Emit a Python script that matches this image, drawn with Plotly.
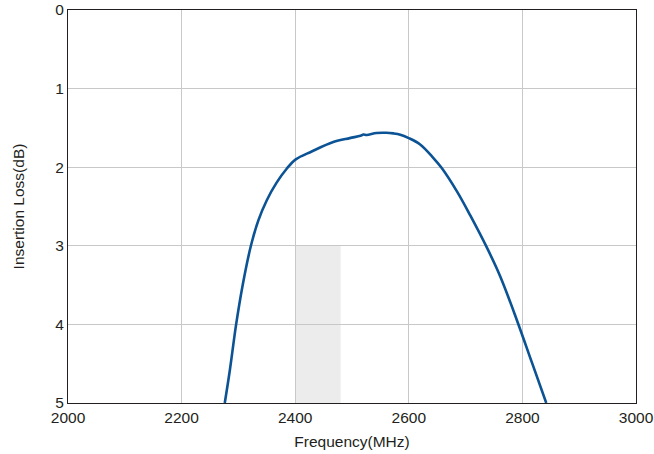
import plotly.graph_objects as go

freq_mhz = [2276, 2285, 2296, 2307, 2322, 2335, 2350, 2367, 2385, 2401, 2429, 2467, 2496,
            2515, 2520, 2526, 2543, 2560, 2573, 2585, 2600, 2620, 2643, 2658, 2685, 2708,
            2738, 2761, 2790, 2817, 2842]
loss_db = [5.0, 4.58, 4.0, 3.52, 3.0, 2.68, 2.42, 2.20, 2.02, 1.90, 1.80, 1.68, 1.63,
           1.60, 1.585, 1.59, 1.565, 1.562, 1.57, 1.586, 1.63, 1.71, 1.88, 2.01, 2.31, 2.61,
           3.03, 3.39, 3.94, 4.49, 5.0]

band_x = [2400, 2480]
band_y = [3, 5]

x_ticks = [2000, 2200, 2400, 2600, 2800, 3000]
y_ticks = [0, 1, 2, 3, 4, 5]

ink = "#231f20"
fs = 15.5
fig = go.Figure()
fig.add_shape(type="rect", x0=band_x[0], x1=band_x[1], y0=band_y[0], y1=band_y[1],
              fillcolor="#ececec", line_width=0, layer="below")
fig.add_trace(go.Scatter(x=freq_mhz, y=loss_db, mode="lines",
                         line=dict(color="#0b5394", width=2.6, shape="spline", smoothing=1.0),
                         showlegend=False, hoverinfo="skip"))

fig.update_layout(
    width=654, height=454,
    margin=dict(l=68, r=18, t=10, b=51),
    paper_bgcolor="white", plot_bgcolor="white",
    font=dict(family="Liberation Sans, Arial, sans-serif", size=fs, color=ink),
)
fig.update_xaxes(range=[2000, 3000], tickvals=x_ticks, showgrid=True, gridcolor="#c8c8c8",
                 gridwidth=1, showline=True, linecolor=ink, linewidth=1.2, mirror=True,
                 ticks="", zeroline=False, automargin=False,
                 title=dict(text="Frequency(MHz)", font=dict(size=fs), standoff=11))
fig.update_yaxes(range=[5, 0], tickvals=y_ticks, showgrid=True, gridcolor="#c8c8c8",
                 gridwidth=1, showline=True, linecolor=ink, linewidth=1.2, mirror=True,
                 ticks="", zeroline=False, automargin=False,
                 title=dict(text="Insertion Loss(dB)", font=dict(size=fs), standoff=26))

fig.write_html("out.html", config={"displayModeBar": False},
               post_script="document.body.style.margin='0';document.body.style.overflow='hidden';")
